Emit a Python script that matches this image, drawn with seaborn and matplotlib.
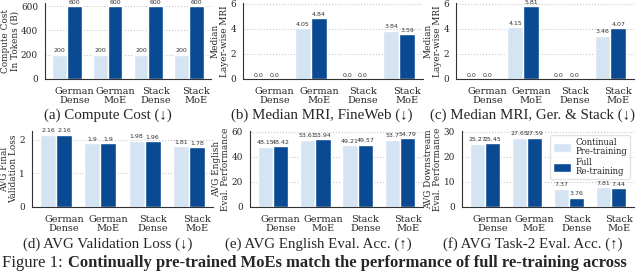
import numpy as np
import pandas as pd
import matplotlib
matplotlib.use("Agg")
import matplotlib.pyplot as plt
import seaborn as sns

models = ["German\nDense", "German\nMoE", "Stack\nDense", "Stack\nMoE"]
methods = ["Continual\nPre-training", "Full\nRe-training"]

compute_cpt = [200, 200, 200, 200]
compute_full = [600, 600, 600, 600]
mri_fineweb_cpt = [0.0, 4.05, 0.0, 3.84]
mri_fineweb_full = [0.0, 4.84, 0.0, 3.59]
mri_gerstack_cpt = [0.0, 4.15, 0.0, 3.46]
mri_gerstack_full = [0.0, 5.81, 0.0, 4.07]
val_loss_cpt = [2.16, 1.9, 1.98, 1.81]
val_loss_full = [2.16, 1.9, 1.96, 1.78]
english_cpt = [48.15, 53.61, 49.21, 53.7]
english_full = [48.42, 53.94, 49.57, 54.79]
task2_cpt = [25.27, 27.65, 7.37, 7.81]
task2_full = [25.45, 27.59, 3.76, 7.44]

light = "#d4e4f3"
dark = "#0a4a92"

sns.set_style("whitegrid", {"grid.linestyle": ":", "grid.color": "#c8c8c8",
                            "axes.edgecolor": "#333333"})
plt.rcParams["font.family"] = ["DejaVu Serif"]
cap_font = ["Liberation Serif", "DejaVu Serif"]

W, H = 640, 271
fig = plt.figure(figsize=(W / 100, H / 100), dpi=100)


def make_axes(l, r, top, bottom):
    return fig.add_axes([l / W, 1 - bottom / H, (r - l) / W, (bottom - top) / H])


panels = [
    (compute_cpt, compute_full, "Compute Cost\nIn Tokens (B)", "(a) Compute Cost (\u2193)",
     (45, 211, 2.5, 79), None, [0, 200, 400, 600], (108, 115)),
    (mri_fineweb_cpt, mri_fineweb_full, "Median\nLayer-wise MRI", "(b) Median MRI, FineWeb (\u2193)",
     (243, 423, 2.5, 79), 6.1, [0, 2, 4, 6], (322, 115)),
    (mri_gerstack_cpt, mri_gerstack_full, "Median\nLayer-wise MRI", "(c) Median MRI, Ger. & Stack (\u2193)",
     (456, 634, 2.5, 79), 6.1, [0, 2, 4, 6], (533, 115)),
    (val_loss_cpt, val_loss_full, "AVG Final\nValidation Loss", "(d) AVG Validation Loss (\u2193)",
     (32, 213, 131, 207), None, [0, 1, 2], (108, 244)),
    (english_cpt, english_full, "AVG English\nEval. Performance", "(e) AVG English Eval. Acc. (\u2191)",
     (250, 423, 131, 207), 60.6, [0, 20, 40, 60], (318, 244)),
    (task2_cpt, task2_full, "AVG Downstream\nEval. Performance", "(f) AVG Task-2 Eval. Acc. (\u2191)",
     (462, 634, 131, 207), 30.3, [0, 10, 20, 30], (533, 244)),
]

for i, (cpt, full, ylabel, caption, box, ytop, yticks, cap_xy) in enumerate(panels):
    ax = make_axes(*box)
    df = pd.DataFrame({
        "model": models * 2,
        "method": [methods[0]] * 4 + [methods[1]] * 4,
        "value": list(cpt) + list(full),
    })
    is_last = i == len(panels) - 1
    sns.barplot(data=df, x="model", y="value", hue="method", palette=[light, dark],
                width=0.72, saturation=1, errorbar=None, legend=is_last, ax=ax)
    for cont, vals in zip(ax.containers, [cpt, full]):
        ax.bar_label(cont, labels=[str(v) for v in vals], fontsize=4.5,
                     padding=1, color="#333333", family="DejaVu Sans")
    ax.set_xticks(np.arange(4) + 0.18)
    ax.set_xticklabels(models, linespacing=1.05)
    ax.set_xlim(-0.54, 3.54)
    if ytop is not None:
        ax.set_ylim(0, ytop)
    ax.set_yticks(yticks)
    ax.set_xlabel("")
    ax.set_ylabel(ylabel, fontsize=6.4, linespacing=1.05, labelpad=1)
    ax.tick_params(axis="x", labelsize=7, pad=2)
    ax.tick_params(axis="y", labelsize=6.4, pad=1.5)
    sns.despine(ax=ax)
    if is_last:
        h, l = ax.get_legend_handles_labels()
        leg = ax.legend(h, l, loc="upper right", fontsize=6.2, frameon=True, handlelength=2.1,
                        handleheight=1.2, handletextpad=0.5, borderpad=0.3, borderaxespad=0.5,
                        labelspacing=0.25, edgecolor="#dddddd", fancybox=True)
        for t in leg.get_texts():
            t.set_linespacing(1.0)
    fig.text(cap_xy[0] / W, 1 - cap_xy[1] / H, caption, ha="center", va="center",
             fontsize=10.8, family=cap_font)

t1 = fig.text(2 / W, 4 / H, "Figure 1:", fontsize=12, va="baseline", family=cap_font)
fig.canvas.draw()
bb = t1.get_window_extent()
fig.text((bb.x1 + 5) / W, 4 / H,
         "Continually pre-trained MoEs match the performance of full re-training across",
         fontsize=12, fontweight="bold", va="baseline", family=cap_font)

fig.savefig("out.png", dpi=100)
